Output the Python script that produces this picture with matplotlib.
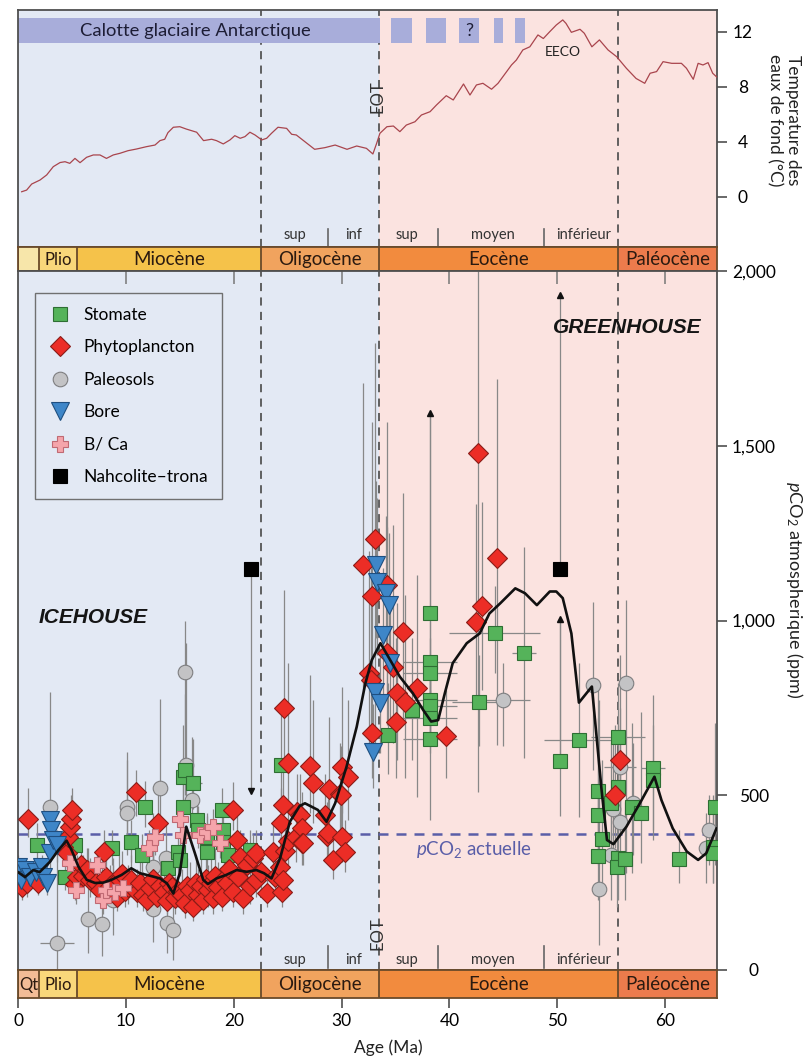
import matplotlib
matplotlib.use("Agg")
import matplotlib.pyplot as plt
from matplotlib.lines import Line2D
from matplotlib.transforms import blended_transform_factory
from matplotlib.ticker import FixedLocator, FixedFormatter

plt.rcParams['font.family'] = ['Lato', 'DejaVu Sans']
plt.rcParams['mathtext.fontset'] = 'custom'
plt.rcParams['mathtext.rm'] = 'Lato'
plt.rcParams['mathtext.it'] = 'Lato:italic'
plt.rcParams['mathtext.bf'] = 'Lato:bold'

# ---------------- data ----------------
# bottom-water temperature (age Ma, degC)
temp_age = [0.34, 0.8, 1.27, 2.04, 2.66, 3.27, 3.9, 4.36, 4.8, 5.28, 5.75, 6.36, 6.98, 7.6, 8.2, 8.83,
            9.45, 10.2, 10.98, 11.9, 12.7, 13.16, 13.6, 13.9, 14.4, 15.0, 15.6, 16.56, 17.2, 17.95, 18.4,
            19.03, 19.65, 20.1, 20.6, 21.04, 21.5, 21.97, 22.6, 23.05, 23.5, 24.1, 24.9, 25.37, 25.8, 26.6,
            27.5, 28.45, 29.4, 30.5, 31.4, 32.3, 32.9, 33.25, 33.55, 34.2, 34.8, 35.4, 36.0, 36.8, 37.4,
            38.2, 38.8, 39.7, 40.35, 41.3, 41.9, 42.5, 43.1, 43.9, 44.5, 45.3, 45.75, 46.2, 46.8, 47.45,
            48.2, 48.7, 49.3, 49.9, 50.5, 50.8, 51.3, 52.1, 52.5, 53.2, 53.9, 54.7, 55.5, 56.4, 57.3, 58.1,
            58.6, 59.2, 59.8, 60.6, 61.5, 61.97, 62.6, 63.05, 63.5, 63.97, 64.4, 64.8]
temp_val = [0.38, 0.5, 0.94, 1.23, 1.6, 2.2, 2.5, 2.56, 2.44, 2.8, 2.49, 2.88, 3.05, 3.05, 2.8, 3.05,
            3.17, 3.36, 3.48, 3.65, 3.77, 4.09, 4.19, 4.67, 5.06, 5.1, 4.93, 4.7, 4.09, 4.19, 4.09,
            3.85, 4.14, 4.45, 4.26, 4.38, 4.7, 4.5, 4.14, 4.26, 4.62, 5.06, 4.98, 4.55, 4.5, 4.01,
            3.46, 3.58, 3.77, 3.46, 3.7, 3.53, 3.12, 3.9, 4.62, 5.1, 5.15, 4.74, 5.22, 5.46, 5.95,
            6.19, 6.68, 7.35, 7.04, 8.2, 7.4, 8.13, 8.25, 7.82, 8.25, 9.1, 9.58, 9.94, 10.67, 10.9,
            11.76, 11.5, 12.0, 12.48, 12.85, 12.6, 11.95, 12.17, 11.88, 10.9, 11.4, 10.67, 10.18, 9.34, 8.6, 8.25,
            8.98, 9.1, 9.82, 9.7, 9.7, 9.34, 8.54, 9.7, 9.58, 9.75, 8.98, 8.69]

# Antarctic ice sheet (start, end in Ma)
ice_start = [0.0, 34.6, 37.8, 40.9, 44.1, 46.06]
ice_end = [33.6, 36.5, 39.7, 42.7, 44.95, 47.0]

# epochs
epoch_start = [0.0, 1.95, 5.5, 22.5, 33.45, 55.65]
epoch_end = [1.95, 5.5, 22.5, 33.45, 55.65, 64.8]
epoch_top = ['', 'Plio', 'Miocène', 'Oligocène', 'Eocène', 'Paléocène']
epoch_bot = ['Qt', 'Plio', 'Miocène', 'Oligocène', 'Eocène', 'Paléocène']
epoch_col_top = ['#F7E6AA', '#F9D77A', '#F5C24A', '#F1A35E', '#F28B3E', '#EC7B4C']
epoch_col_bot = ['#F3BC96', '#F9D77A', '#F5C24A', '#F1A35E', '#F28B3E', '#EC7B4C']
stage_div = [28.7, 38.9, 48.75]
stage_lab = ['sup', 'inf', 'sup', 'moyen', 'inférieur']
stage_x = [25.7, 31.1, 36.1, 44.0, 52.45]
dash_lines = [22.5, 33.45, 55.65]

# Stomate: age, ppm, low, high, x-error
stomate = [
    (1.73, 357, 310, 420, 0), (4.35, 267, 230, 320, 0), (5.3, 357, 320, 400, 0), (8.7, 348, 300, 400, 0),
    (10.5, 367, 310, 430, 0), (11.46, 329, 280, 390, 0), (11.77, 467, 410, 540, 0), (13.9, 291, 250, 340, 0),
    (14.86, 338, 290, 390, 0), (15.0, 315, 270, 370, 0), (15.3, 467, 410, 600, 0), (15.3, 553, 480, 700, 0),
    (15.5, 572, 500, 790, 0), (16.25, 534, 460, 660, 0.8), (16.6, 429, 380, 500, 0), (16.7, 400, 350, 470, 0),
    (17.5, 381, 330, 450, 0), (17.5, 338, 290, 400, 0), (18.9, 458, 400, 520, 0), (19.0, 400, 350, 460, 0),
    (19.0, 365, 320, 420, 0), (19.5, 330, 290, 380, 0), (21.5, 343, 300, 400, 0), (24.4, 587, 480, 750, 0),
    (34.3, 672, 560, 820, 0), (36.5, 744, 600, 950, 0), (38.2, 1022, 900, 1595, 0), (38.2, 882, 780, 1000, 2.5),
    (38.2, 850, 760, 950, 2.5), (38.2, 772, 680, 880, 2.5), (38.2, 754, 660, 860, 2.5), (38.2, 720, 620, 830, 2.5),
    (38.2, 660, 430, 800, 2.5), (42.7, 768, 640, 900, 2.5), (44.2, 963, 850, 1100, 4.2), (46.9, 908, 607, 1211, 1.1),
    (50.2, 599, 440, 1004, 0), (52.0, 658, 439, 878, 3.2), (53.8, 513, 350, 800, 0), (53.8, 443, 300, 720, 0),
    (54.1, 374, 250, 600, 0), (53.8, 326, 200, 500, 0), (55.0, 477, 330, 650, 0), (55.6, 667, 520, 820, 2.5),
    (55.6, 524, 380, 700, 0), (55.6, 320, 200, 480, 0), (55.5, 296, 180, 450, 0), (56.25, 317, 200, 480, 0),
    (56.9, 467, 277, 706, 0), (57.8, 448, 306, 739, 0), (58.9, 577, 372, 787, 1.1), (58.9, 543, 400, 700, 0),
    (61.3, 317, 250, 400, 0), (64.6, 467, 300, 706, 0), (64.45, 353, 250, 500, 0), (64.45, 334, 250, 450, 0),
]

# Phytoplancton: age, ppm, low, high
phyto = [
    (0.03, 257, 220, 300), (0.34, 238, 200, 280), (0.8, 248, 210, 290), (0.96, 431, 380, 520), (1.9, 250, 215, 290),
    (4.2, 353, 300, 420), (4.5, 334, 290, 390), (4.66, 381, 330, 450), (4.8, 410, 360, 480), (4.9, 432, 380, 500),
    (4.97, 458, 400, 520), (5.3, 245, 200, 300), (5.44, 267, 220, 330), (5.8, 300, 250, 360), (6.0, 270, 220, 330),
    (6.36, 286, 240, 350), (6.67, 257, 210, 320), (7.2, 248, 200, 310), (7.6, 229, 190, 290), (7.97, 338, 290, 400),
    (8.2, 267, 220, 330), (8.5, 240, 200, 300), (8.85, 250, 200, 320), (9.14, 210, 170, 270), (9.4, 260, 210, 330),
    (9.65, 275, 230, 340), (9.9, 225, 180, 290), (10.2, 237, 190, 300), (10.5, 257, 210, 330), (10.9, 510, 440, 572),
    (11.0, 224, 180, 290), (11.3, 248, 200, 320), (11.6, 215, 170, 280), (11.93, 200, 160, 260), (12.23, 234, 190, 300),
    (12.5, 260, 210, 340), (12.85, 210, 170, 270), (12.97, 420, 360, 500), (13.2, 240, 190, 310), (13.5, 224, 180, 290),
    (13.8, 196, 160, 260), (14.0, 250, 200, 330), (14.24, 238, 190, 310), (14.55, 205, 160, 270), (14.8, 225, 180, 300),
    (15.17, 215, 170, 290), (15.5, 191, 150, 260), (15.7, 240, 190, 320), (15.9, 229, 180, 310), (16.25, 181, 140, 250),
    (16.5, 250, 200, 330), (16.7, 215, 170, 290), (17.0, 240, 190, 320), (17.17, 200, 160, 270), (17.4, 260, 210, 340),
    (17.65, 229, 180, 300), (17.9, 250, 200, 330), (18.1, 205, 160, 280), (18.3, 270, 220, 350), (18.57, 238, 190, 310),
    (18.9, 210, 170, 280), (19.1, 260, 210, 340), (19.35, 248, 200, 330), (19.6, 290, 240, 370), (19.95, 224, 180, 300),
    (19.95, 458, 400, 539), (20.27, 372, 320, 440), (20.4, 267, 220, 340), (20.6, 324, 270, 400), (20.9, 205, 160, 280),
    (21.2, 300, 250, 370), (21.5, 240, 190, 310), (21.8, 320, 270, 390), (22.1, 257, 210, 330), (22.1, 334, 280, 400),
    (22.5, 281, 230, 350), (23.05, 219, 180, 290), (23.66, 338, 280, 420), (23.8, 267, 220, 340), (24.3, 296, 240, 380),
    (24.4, 421, 350, 520), (24.5, 224, 180, 300), (24.6, 257, 210, 340), (24.6, 472, 400, 600), (24.7, 750, 600, 1087),
    (24.75, 340, 280, 430), (25.05, 591, 450, 878), (25.05, 370, 300, 470), (25.8, 381, 310, 480), (25.9, 453, 370, 560),
    (26.1, 443, 360, 560), (26.3, 407, 330, 510), (26.3, 362, 300, 450), (26.45, 364, 300, 460), (27.06, 584, 450, 844),
    (27.37, 534, 420, 772), (28.45, 443, 360, 560), (28.6, 383, 310, 480), (28.76, 391, 320, 490), (28.8, 517, 400, 725),
    (29.2, 315, 260, 400), (29.84, 505, 400, 650), (29.9, 500, 400, 640), (30.0, 582, 450, 810), (30.0, 381, 310, 480),
    (30.3, 338, 280, 430), (30.6, 553, 430, 772), (32.0, 1159, 800, 1680), (32.5, 849, 650, 1200), (32.7, 830, 650, 1150),
    (32.8, 1070, 800, 1569), (32.8, 677, 550, 900), (33.1, 1232, 900, 1794), (34.2, 1101, 800, 1569), (34.2, 906, 700, 1268),
    (34.8, 868, 650, 1273), (35.0, 711, 550, 950), (35.1, 792, 600, 1050), (35.65, 966, 700, 1366), (35.9, 768, 550, 1073),
    (36.95, 806, 496, 1130), (39.7, 670, 550, 800), (42.45, 997, 750, 1333), (42.6, 1480, 510, 2000), (43.0, 1041, 800, 1340),
    (44.4, 1178, 644, 1691), (55.3, 501, 350, 700), (55.8, 601, 400, 900),
]

# Paleosols: age, ppm, low, high, x-error
paleosol = [
    (2.97, 466, 380, 795, 0), (3.6, 78, 0, 350, 1.6), (6.5, 145, 50, 350, 0), (7.76, 132, 40, 320, 0),
    (8.8, 200, 100, 300, 0), (10.1, 467, 350, 624, 0), (10.1, 448, 330, 600, 0), (12.5, 296, 200, 450, 0),
    (12.5, 174, 80, 350, 0), (13.16, 520, 400, 775, 0), (13.7, 320, 230, 420, 0), (13.8, 134, 50, 280, 0),
    (14.4, 114, 30, 250, 0), (15.5, 853, 600, 1000, 0), (15.6, 587, 480, 937, 0), (16.1, 486, 400, 667, 0),
    (45.0, 772, 641, 878, 2.5), (53.3, 815, 572, 1054, 0), (53.9, 231, 72, 772, 0), (55.0, 329, 200, 500, 0),
    (55.2, 462, 300, 650, 0), (55.8, 424, 280, 600, 0), (55.8, 582, 420, 750, 1.5), (56.35, 820, 277, 1059, 0),
    (57.0, 479, 330, 650, 0), (63.8, 350, 250, 450, 0), (64.1, 400, 300, 500, 0),
]

# Bore: age, ppm, low, high
bore = [
    (0.03, 296, 260, 330), (0.3, 257, 225, 290), (0.65, 286, 250, 320), (1.1, 267, 235, 300), (1.7, 281, 245, 315),
    (2.2, 296, 260, 330), (2.3, 267, 235, 300), (2.66, 248, 215, 280), (2.97, 429, 380, 480), (3.1, 400, 350, 450),
    (2.97, 334, 290, 380), (3.27, 372, 330, 420), (3.6, 357, 310, 400), (32.9, 625, 520, 760), (33.1, 796, 650, 950),
    (33.2, 1159, 950, 1400), (33.25, 1111, 900, 1350), (33.55, 763, 620, 920), (33.85, 958, 780, 1150),
    (34.1, 1078, 880, 1300), (34.4, 1044, 850, 1250), (34.5, 878, 720, 1050),
]

# B/Ca: age, ppm, low, high
bca = [
    (4.8, 305, 260, 350), (5.4, 229, 190, 270), (7.3, 300, 260, 340), (7.9, 200, 160, 240), (8.2, 229, 190, 270),
    (8.95, 224, 185, 265), (9.76, 234, 195, 275), (12.1, 348, 300, 400), (12.7, 381, 330, 430), (15.0, 431, 380, 480),
    (15.3, 386, 340, 430), (16.87, 386, 340, 430), (17.5, 395, 350, 440), (18.1, 410, 360, 460), (18.7, 362, 320, 410),
]

# Nahcolite-trona: age, ppm
nahco_age = [21.57, 50.2]
nahco_ppm = [1147, 1147]

# limit arrows: age, from ppm, to ppm (tip)
arrows = [(21.57, 1147, 513), (50.2, 1147, 1931), (38.2, 1022, 1595), (50.2, 599, 1004)]

# smoothed pCO2 curve
curve_age = [0.0, 0.65, 1.42, 2.0, 2.97, 3.74, 4.5, 4.97, 5.6, 6.37, 7.14, 7.9, 8.66, 9.6, 10.5, 11.3, 12.2,
             13.16, 13.8, 14.4, 15.0, 15.6, 16.4, 17.17, 17.6, 18.4, 19.3, 20.27, 21.2, 22.1, 22.8, 23.5, 24.3,
             25.2, 26.1, 26.6, 27.8, 28.6, 29.4, 30.46, 31.4, 32.2, 32.8, 33.6, 34.5, 35.4, 36.6, 37.56, 38.3,
             38.95, 39.57, 40.3, 41.6, 42.8, 43.7, 44.7, 46.1, 47.0, 48.1, 49.3, 49.9, 50.5, 51.3, 52.0, 53.2,
             54.1, 54.6, 55.2, 56.4, 57.65, 59.0, 59.65, 60.7, 62.0, 63.05, 63.8, 64.75]
curve_ppm = [280, 266, 286, 280, 310, 343, 370, 343, 296, 258, 249, 250, 258, 272, 291, 277, 270,
             262, 248, 219, 277, 410, 334, 258, 246, 262, 272, 286, 281, 286, 277, 262, 320,
             424, 469, 477, 458, 424, 477, 582, 696, 820, 887, 935, 887, 839, 792, 744, 711,
             715, 792, 878, 935, 963, 1020, 1049, 1092, 1078, 1044, 1083, 1083, 1064, 963, 765, 811,
             515, 372, 360, 410, 477, 553, 486, 405, 339, 315, 334, 405]

present_pco2 = 390
ppm_ticks = [0, 500, 1000, 1500, 2000]
ppm_labels = ['0', '500', '1,000', '1,500', '2,000']
temp_ticks = [0, 4, 8, 12]
age_ticks = [0, 10, 20, 30, 40, 50, 60]

# ---------------- style ----------------
ICE_BG = '#E3E9F4'
HOT_BG = '#FBE3E0'
FRAME = '#4f4f4f'
W, H = 806, 1059


def rect(x0, y0, x1, y1):
    return [x0 / W, 1 - y1 / H, (x1 - x0) / W, (y1 - y0) / H]


fig = plt.figure(figsize=(W / 100, H / 100), dpi=100)
ax_t = fig.add_axes(rect(18, 10, 717, 247))
ax_s1 = fig.add_axes(rect(18, 247, 717, 271))
ax_m = fig.add_axes(rect(18, 271, 717, 970))
ax_s2 = fig.add_axes(rect(18, 970, 717, 998))

XMAX = 64.8
for ax in (ax_t, ax_s1, ax_m, ax_s2):
    ax.set_xlim(0, XMAX)
    for sp in ax.spines.values():
        sp.set_color(FRAME)
        sp.set_linewidth(1.3)
    ax.tick_params(axis='x', bottom=False, labelbottom=False)
    ax.tick_params(axis='y', left=False, labelleft=False)

# backgrounds
for ax in (ax_t, ax_m):
    ax.axvspan(0, 33.45, color=ICE_BG, lw=0, zorder=0)
    ax.axvspan(33.45, XMAX, color=HOT_BG, lw=0, zorder=0)
    for xd in dash_lines:
        ax.axvline(xd, color='#555555', lw=1.3, ls=(0, (4.5, 3.5)), zorder=1)

# ---------------- temperature panel ----------------
ax_t.set_ylim(-3.63, 13.57)
ax_t.plot(temp_age, temp_val, color='#A9454D', lw=0.9, zorder=3)
btr = blended_transform_factory(ax_t.transData, ax_t.transAxes)
for s, e in zip(ice_start, ice_end):
    ax_t.fill_between([s, e], 0.861, 0.966, transform=btr, color='#A8ADDA', lw=0, zorder=2)
ax_t.text(16.4, 0.913, 'Calotte glaciaire Antarctique', transform=btr, ha='center', va='center',
          fontsize=13.2, color='#1d1d35', zorder=4)
ax_t.text(41.8, 0.913, '?', transform=btr, ha='center', va='center', fontsize=13, color='#1d1d35', zorder=4)
ax_t.text(50.5, 10.55, 'EECO', ha='center', va='center', fontsize=10, color='#222222', zorder=4)
ax_t.text(33.3, 7.3, 'EOT', ha='center', va='center', rotation=90, fontsize=12, color='#333333', zorder=4)
ax_t.yaxis.set_major_locator(FixedLocator(temp_ticks))
ax_t.yaxis.set_major_formatter(FixedFormatter([str(t) for t in temp_ticks]))
ax_t.tick_params(axis='y', right=True, labelright=True, direction='out', length=7, width=1.2,
                 color=FRAME, pad=11.5, labelsize=12.5)
for lb in ax_t.get_yticklabels():
    lb.set_ha('center')
for xd in stage_div[:]:
    ax_t.plot([xd, xd], [0.0, 0.075], transform=btr, color='#666666', lw=1.2, zorder=2)
for lab, xs in zip(stage_lab, stage_x):
    ax_t.text(xs, 0.05, lab, transform=btr, ha='center', va='center', fontsize=10.5, color='#333333')

# ---------------- epoch strips ----------------
for ax, names, cols, sizes in ((ax_s1, epoch_top, epoch_col_top, 13.5), (ax_s2, epoch_bot, epoch_col_bot, 13.5)):
    ax.set_ylim(0, 1)
    for s, e, n, c in zip(epoch_start, epoch_end, names, cols):
        ax.axvspan(s, e, color=c, lw=0, zorder=0)
        ax.axvline(s, color='#6a4a2a', lw=1.3, zorder=1)
        fs = sizes if len(n) > 4 else 12
        ax.text((s + e) / 2, 0.47, n, ha='center', va='center', fontsize=fs, color='#2b1a10')
    for sp in ax.spines.values():
        sp.set_color('#6a4a2a')

ax_s2.xaxis.set_major_locator(FixedLocator(age_ticks))
ax_s2.tick_params(axis='x', bottom=True, labelbottom=True, direction='out', length=7, width=1.2,
                  color=FRAME, pad=4, labelsize=12.5)
fig.text(388 / W, 1 - 1048 / H, 'Age (Ma)', ha='center', va='center', fontsize=12.5, color='#222222')

# ---------------- main panel ----------------
ax_m.set_ylim(0, 2000)
ax_m.xaxis.set_major_locator(FixedLocator(age_ticks[1:]))
ax_m.tick_params(axis='x', top=True, labeltop=False, direction='in', length=9, width=1.1, color='#777777')
ax_m.yaxis.set_major_locator(FixedLocator(ppm_ticks))
ax_m.yaxis.set_major_formatter(FixedFormatter(ppm_labels))
ax_m.tick_params(axis='y', right=True, labelright=True, direction='out', length=7, width=1.2,
                 color=FRAME, pad=19.5, labelsize=12.5)
for lb in ax_m.get_yticklabels():
    lb.set_ha('center')

ax_m.axhline(present_pco2, color='#5A5EA8', lw=1.8, ls=(0, (4, 3.2)), zorder=1.5)
ax_m.text(42.3, 345, r'$\mathit{p}\mathrm{CO}_2$ actuelle', ha='center', va='center', fontsize=13.5,
          color='#5A5EA8', zorder=1.6)
btm = blended_transform_factory(ax_m.transData, ax_m.transAxes)
for xd in stage_div:
    ax_m.plot([xd, xd], [0.003, 0.035], transform=btm, color='#666666', lw=1.2, zorder=2)
for lab, xs in zip(stage_lab, stage_x):
    ax_m.text(xs, 0.0143, lab, transform=btm, ha='center', va='center', fontsize=10.5, color='#333333')
ax_m.text(33.3, 103, 'EOT', ha='center', va='center', rotation=90, fontsize=12, color='#333333', zorder=2)

ax_m.text(1.9, 1010, 'ICEHOUSE', fontsize=15, fontweight='bold', style='italic',
          family=['Liberation Sans', 'DejaVu Sans'], ha='left', va='center', color='#151515')
ax_m.text(56.5, 1838, 'GREENHOUSE', fontsize=15, fontweight='bold', style='italic',
          family=['Liberation Sans', 'DejaVu Sans'], ha='center', va='center', color='#151515', zorder=6)

ERR = '#888888'


def errs(rows, has_x=False):
    a = [r[0] for r in rows]
    lo = [r[2] for r in rows]
    hi = [r[3] for r in rows]
    ax_m.vlines(a, lo, hi, color=ERR, lw=0.9, zorder=2)
    if has_x:
        xs = [r for r in rows if r[4] > 0]
        ax_m.hlines([r[1] for r in xs], [r[0] - r[4] for r in xs], [r[0] + r[4] for r in xs],
                    color=ERR, lw=0.9, zorder=2)


errs(paleosol, True)
errs(stomate, True)
errs(bca)
errs(phyto)
errs(bore)
for a, y0, y1 in arrows:
    ax_m.vlines(a, min(y0, y1), max(y0, y1), color=ERR, lw=0.9, zorder=2)
    ax_m.plot([a], [y1], marker='^' if y1 > y0 else 'v', ms=5, color='#111111', ls='none', zorder=2.5)

sty = dict(
    stomate=dict(marker='s', ms=10.5, mfc='#55B35A', mec='#2E6E33', mew=0.8),
    phyto=dict(marker='D', ms=10.0, mfc='#EC2D26', mec='#8A1C17', mew=0.8),
    paleo=dict(marker='o', ms=10.5, mfc='#C3C3C5', mec='#7E7E80', mew=0.8),
    bore=dict(marker='v', ms=13, mfc='#3E86C8', mec='#1F4F80', mew=0.8),
    bca=dict(marker='P', ms=11, mfc='#F5A5AB', mec='#C06A74', mew=0.8),
    nahco=dict(marker='s', ms=10, mfc='#000000', mec='#000000', mew=0.8),
)
ax_m.plot([r[0] for r in paleosol], [r[1] for r in paleosol], ls='none', zorder=3.0, **sty['paleo'])
ax_m.plot([r[0] for r in stomate], [r[1] for r in stomate], ls='none', zorder=3.1, **sty['stomate'])
ax_m.plot([r[0] for r in phyto], [r[1] for r in phyto], ls='none', zorder=3.2, **sty['phyto'])
ax_m.plot([r[0] for r in bca], [r[1] for r in bca], ls='none', zorder=3.3, **sty['bca'])
ax_m.plot([r[0] for r in bore], [r[1] for r in bore], ls='none', zorder=3.4, **sty['bore'])
ax_m.plot(nahco_age, nahco_ppm, ls='none', zorder=3.5, **sty['nahco'])
ax_m.plot(curve_age, curve_ppm, color='#111111', lw=1.9, zorder=5)

handles = [Line2D([], [], ls='none', **sty[k]) for k in ('stomate', 'phyto', 'paleo', 'bore', 'bca', 'nahco')]
labels = ['Stomate', 'Phytoplancton', 'Paleosols', 'Bore', 'B/ Ca', 'Nahcolite\u2013trona']
leg = ax_m.legend(handles, labels, loc='upper left', bbox_to_anchor=((35 - 18) / 699, (970 - 293) / 699),
                  borderaxespad=0, frameon=True, fancybox=False, edgecolor='#707070', facecolor=ICE_BG,
                  framealpha=1, fontsize=12.5, labelspacing=0.95, handlelength=1.3, handletextpad=0.7,
                  borderpad=0.8)
leg.get_frame().set_linewidth(1.0)
leg.set_zorder(6)

# axis labels
fig.text(784 / W, 1 - 120 / H, 'Temperature des\neaux de fond (°C)', rotation=-90, ha='center', va='center',
         fontsize=12.5, color='#222222', multialignment='center', linespacing=1.15)
fig.text(795 / W, 1 - 590 / H, r'$\mathit{p}\mathrm{CO}_2$ atmospherique (ppm)', rotation=-90, ha='center',
         va='center', fontsize=13, color='#222222')

fig.savefig('out.png', dpi=100, facecolor='white')
